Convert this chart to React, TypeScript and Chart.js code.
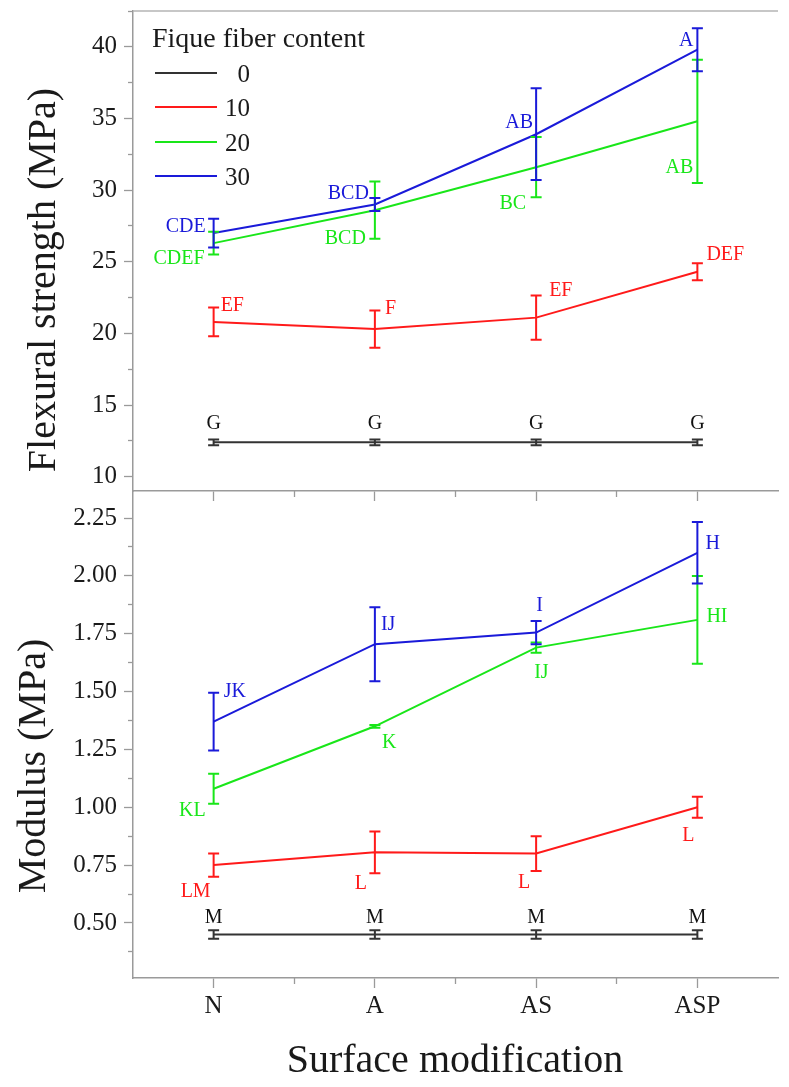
import React, { useEffect, useRef } from "react";
import { Chart, registerables } from "chart.js";

Chart.register(...registerables);

// ---------- data ----------
const categories = ["N", "A", "AS", "ASP"];
const contents = ["0", "10", "20", "30"];

const flex0 = [12.4, 12.4, 12.4, 12.4];
const flex0Err = [0.2, 0.2, 0.2, 0.2];
const flex10 = [20.8, 20.3, 21.1, 24.3];
const flex10Err = [1.0, 1.3, 1.55, 0.6];
const flex20 = [26.3, 28.6, 31.6, 34.8];
const flex20Err = [0.8, 2.0, 2.1, 4.3];
const flex30 = [27.0, 29.0, 33.9, 39.8];
const flex30Err = [1.0, 0.45, 3.2, 1.5];

const mod0 = [0.45, 0.45, 0.45, 0.45];
const mod0Err = [0.018, 0.018, 0.018, 0.018];
const mod10 = [0.75, 0.805, 0.8, 1.0];
const mod10Err = [0.05, 0.09, 0.075, 0.045];
const mod20 = [1.08, 1.35, 1.69, 1.81];
const mod20Err = [0.065, 0.006, 0.022, 0.19];
const mod30 = [1.37, 1.705, 1.755, 2.1];
const mod30Err = [0.125, 0.16, 0.05, 0.133];

const flexLetters = [
  ["G", "G", "G", "G"],
  ["EF", "F", "EF", "DEF"],
  ["CDEF", "BCD", "BC", "AB"],
  ["CDE", "BCD", "AB", "A"],
];
const modLetters = [
  ["M", "M", "M", "M"],
  ["LM", "L", "L", "L"],
  ["KL", "K", "IJ", "HI"],
  ["JK", "IJ", "I", "H"],
];

const flexTicks = [10, 15, 20, 25, 30, 35, 40];
const flexMinorTicks = [12.5, 17.5, 22.5, 27.5, 32.5, 37.5, 42.5];
const modTicks = [0.5, 0.75, 1.0, 1.25, 1.5, 1.75, 2.0, 2.25];
const modMinorTicks = [0.375, 0.625, 0.875, 1.125, 1.375, 1.625, 1.875, 2.125];
const xMinorTicks = [0.5, 1.5, 2.5];

// ---------- styling / placement ----------
const SERIF = "'Liberation Serif', 'Times New Roman', Times, serif";
const AXIS_GRAY = "#9a9a9a";
const TEXT = "#1a1a1a";
const COLORS = ["#333333", "#ff1a1a", "#19e619", "#1a1ad9"];
const LETTER_COLORS = ["#111111", "#ff1a1a", "#19e619", "#1a1ad9"];

type Pos = [number, number, CanvasTextAlign];
const flexLabelPos: Pos[][] = [
  [[0, -20, "center"], [0, -20, "center"], [0, -20, "center"], [0, -20, "center"]],
  [[7, -18, "left"], [10, -22, "left"], [13, -28, "left"], [9, -18, "left"]],
  [[-9, 14, "right"], [-9, 27, "right"], [-10, 35, "right"], [-4, 45, "right"]],
  [[-8, -8, "right"], [-6, -12, "right"], [-3, -13, "right"], [-4, -10, "right"]],
];
const modLabelPos: Pos[][] = [
  [[0, -18, "center"], [0, -18, "center"], [0, -18, "center"], [0, -18, "center"]],
  [[-3, 25, "right"], [-8, 30, "right"], [-6, 28, "right"], [-3, 27, "right"]],
  [[-8, 21, "right"], [7, 15, "left"], [-2, 24, "left"], [9, -4, "left"]],
  [[10, -31, "left"], [6, -21, "left"], [0, -28, "left"], [8, -10, "left"]],
];

type Panel = {
  values: number[][];
  errors: number[][];
  letters: string[][];
  pos: Pos[][];
  min: number;
  max: number;
  ticks: number[];
  minor: number[];
  fmt: (v: number) => string;
};

const flexPanel: Panel = {
  values: [flex0, flex10, flex20, flex30],
  errors: [flex0Err, flex10Err, flex20Err, flex30Err],
  letters: flexLetters,
  pos: flexLabelPos,
  min: 9,
  max: 42.5,
  ticks: flexTicks,
  minor: flexMinorTicks,
  fmt: (v) => String(v),
};

const modPanel: Panel = {
  values: [mod0, mod10, mod20, mod30],
  errors: [mod0Err, mod10Err, mod20Err, mod30Err],
  letters: modLetters,
  pos: modLabelPos,
  min: 0.262,
  max: 2.367,
  ticks: modTicks,
  minor: modMinorTicks,
  fmt: (v) => v.toFixed(2),
};

function zeroPad(s: any) {
  s.paddingTop = 0;
  s.paddingBottom = 0;
  s.paddingLeft = 0;
  s.paddingRight = 0;
}

function makeConfig(panel: Panel, isBottom: boolean, offsetY: number): any {
  const datasets = panel.values.map((vals, si) => ({
    label: contents[si],
    data: vals.map((v, i) => ({ x: i, y: v })),
    borderColor: COLORS[si],
    backgroundColor: COLORS[si],
    borderWidth: 2,
    pointRadius: 0,
    pointHoverRadius: 0,
    tension: 0,
    clip: false,
    order: 3 - si,
    xAxisID: "x",
    yAxisID: "y",
  }));

  const decor = {
    id: "decor",
    afterDatasetsDraw(chart: any) {
      const ctx = chart.ctx as CanvasRenderingContext2D;
      const xs = chart.scales.x;
      const ys = chart.scales.y;
      panel.values.forEach((vals, si) => {
        ctx.save();
        ctx.strokeStyle = COLORS[si];
        ctx.lineWidth = 2;
        vals.forEach((v, i) => {
          const e = panel.errors[si][i];
          const px = xs.getPixelForValue(i);
          const pt = ys.getPixelForValue(v + e);
          const pb = ys.getPixelForValue(v - e);
          const cw = 5.5;
          ctx.beginPath();
          ctx.moveTo(px, pt);
          ctx.lineTo(px, pb);
          ctx.moveTo(px - cw, pt);
          ctx.lineTo(px + cw, pt);
          ctx.moveTo(px - cw, pb);
          ctx.lineTo(px + cw, pb);
          ctx.stroke();
        });
        ctx.restore();
      });
      panel.letters.forEach((row, si) => {
        ctx.save();
        ctx.fillStyle = LETTER_COLORS[si];
        ctx.font = `20px ${SERIF}`;
        ctx.textBaseline = "alphabetic";
        row.forEach((txt, i) => {
          const [dx, dy, align] = panel.pos[si][i];
          const px = xs.getPixelForValue(i);
          const py = ys.getPixelForValue(panel.values[si][i]);
          ctx.textAlign = align;
          ctx.fillText(txt, px + dx, py + dy + 6.6);
        });
        ctx.restore();
      });
    },
    afterDraw(chart: any) {
      const ctx = chart.ctx as CanvasRenderingContext2D;
      const area = chart.chartArea;
      ctx.save();
      ctx.fillStyle = TEXT;
      if (!isBottom) {
        ctx.strokeStyle = "#b4b4b4";
        ctx.lineWidth = 1.5;
        ctx.beginPath();
        ctx.moveTo(area.left, area.top);
        ctx.lineTo(area.right, area.top);
        ctx.stroke();
        ctx.save();
        ctx.translate(55, 280 - offsetY);
        ctx.rotate(-Math.PI / 2);
        ctx.font = `40px ${SERIF}`;
        ctx.textAlign = "center";
        ctx.textBaseline = "alphabetic";
        ctx.fillText("Flexural strength (MPa)", 0, 0);
        ctx.restore();
        ctx.font = `28px ${SERIF}`;
        ctx.textAlign = "left";
        ctx.textBaseline = "alphabetic";
        ctx.fillText("Fique fiber content", 152, 47 - offsetY);
        const ly = [73, 107, 142, 176];
        contents.forEach((c, si) => {
          ctx.strokeStyle = COLORS[si];
          ctx.lineWidth = 2;
          ctx.beginPath();
          ctx.moveTo(155, ly[si] - offsetY);
          ctx.lineTo(217, ly[si] - offsetY);
          ctx.stroke();
          ctx.font = `25px ${SERIF}`;
          ctx.textAlign = "right";
          ctx.fillStyle = TEXT;
          ctx.fillText(c, 250, ly[si] + 8.5 - offsetY);
        });
      } else {
        ctx.save();
        ctx.translate(45, 766 - offsetY);
        ctx.rotate(-Math.PI / 2);
        ctx.font = `40px ${SERIF}`;
        ctx.textAlign = "center";
        ctx.textBaseline = "alphabetic";
        ctx.fillText("Modulus (MPa)", 0, 0);
        ctx.restore();
        ctx.font = `40px ${SERIF}`;
        ctx.textAlign = "center";
        ctx.textBaseline = "alphabetic";
        ctx.fillText("Surface modification", 455, 1072 - offsetY);
      }
      ctx.restore();
    },
  };

  return {
    type: "line",
    data: { datasets },
    plugins: [decor],
    options: {
      responsive: false,
      animation: false,
      devicePixelRatio: 1,
      layout: { padding: { left: 0, right: 11, top: 11, bottom: 0 } },
      plugins: { legend: { display: false }, tooltip: { enabled: false }, title: { display: false } },
      events: [],
      scales: {
        x: {
          type: "linear",
          axis: "x",
          position: "bottom",
          weight: 1,
          min: -0.5,
          max: 3.5,
          afterBuildTicks: (s: any) => {
            s.ticks = categories.map((_, i) => ({ value: i }));
          },
          afterFit: (s: any) => {
            s.height = isBottom ? 109 : 19;
            zeroPad(s);
          },
          ticks: {
            display: isBottom,
            autoSkip: false,
            maxRotation: 0,
            padding: 3,
            color: TEXT,
            font: { family: SERIF, size: 25 },
            callback: (v: any) => categories[Math.round(Number(v))] ?? "",
          },
          grid: {
            drawOnChartArea: false,
            drawTicks: true,
            tickLength: 10,
            color: AXIS_GRAY,
            tickWidth: 1.3,
          },
          border: { display: true, color: AXIS_GRAY, width: 1.5 },
        },
        xMinor: {
          type: "linear",
          axis: "x",
          position: "bottom",
          weight: 0,
          min: -0.5,
          max: 3.5,
          afterBuildTicks: (s: any) => {
            s.ticks = xMinorTicks.map((v) => ({ value: v }));
          },
          afterFit: (s: any) => {
            s.height = 0;
            zeroPad(s);
          },
          ticks: { display: false },
          grid: { drawOnChartArea: false, drawTicks: true, tickLength: 6, color: AXIS_GRAY, tickWidth: 1.3 },
          border: { display: false },
        },
        y: {
          type: "linear",
          axis: "y",
          position: "left",
          weight: 1,
          min: panel.min,
          max: panel.max,
          afterBuildTicks: (s: any) => {
            s.ticks = panel.ticks.map((v) => ({ value: v }));
          },
          afterFit: (s: any) => {
            s.width = 133;
            zeroPad(s);
          },
          ticks: {
            padding: 7,
            color: TEXT,
            font: { family: SERIF, size: 25 },
            callback: (v: any) => panel.fmt(Number(v)),
          },
          grid: { drawOnChartArea: false, drawTicks: true, tickLength: 9, color: AXIS_GRAY, tickWidth: 1.3 },
          border: { display: true, color: AXIS_GRAY, width: 1.5 },
        },
        yMinor: {
          type: "linear",
          axis: "y",
          position: "left",
          weight: 0,
          min: panel.min,
          max: panel.max,
          afterBuildTicks: (s: any) => {
            s.ticks = panel.minor.filter((v) => v <= panel.max && v >= panel.min).map((v) => ({ value: v }));
          },
          afterFit: (s: any) => {
            s.width = 0;
            zeroPad(s);
          },
          ticks: { display: false },
          grid: { drawOnChartArea: false, drawTicks: true, tickLength: 5, color: AXIS_GRAY, tickWidth: 1.3 },
          border: { display: false },
        },
      },
    },
  };
}

export default function App() {
  const topRef = useRef<HTMLCanvasElement>(null);
  const botRef = useRef<HTMLCanvasElement>(null);

  useEffect(() => {
    const c1 = new Chart(topRef.current as HTMLCanvasElement, makeConfig(flexPanel, false, 0));
    const c2 = new Chart(botRef.current as HTMLCanvasElement, makeConfig(modPanel, true, 480));
    return () => {
      c1.destroy();
      c2.destroy();
    };
  }, []);

  return (
    <div style={{ position: "absolute", left: 0, top: 0, width: 789, height: 1087, background: "#ffffff" }}>
      <canvas
        ref={topRef}
        width={789}
        height={510}
        style={{ position: "absolute", left: 0, top: 0, width: 789, height: 510 }}
      />
      <canvas
        ref={botRef}
        width={789}
        height={607}
        style={{ position: "absolute", left: 0, top: 480, width: 789, height: 607 }}
      />
    </div>
  );
}
